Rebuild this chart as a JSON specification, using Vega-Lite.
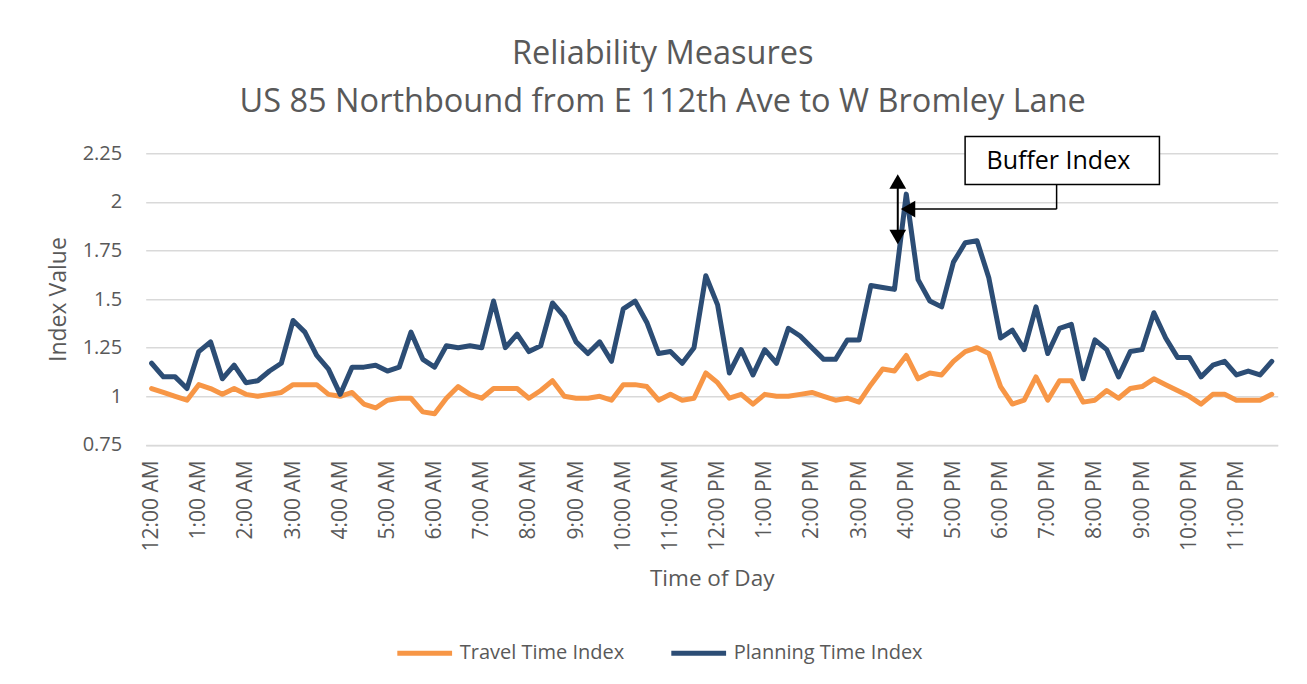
{
  "$schema": "https://vega.github.io/schema/vega-lite/v6.json",
  "width": 1132,
  "height": 291.6,
  "autosize": {"type": "none"},
  "padding": {"left": 145.7, "top": 153.3, "right": 29.3, "bottom": 239.1},
  "background": "white",
  "config": {"font": "Open Sans", "view": {"stroke": null}},
  "title": {
    "text": ["Reliability Measures", "US 85 Northbound from E 112th Ave to W Bromley Lane"],
    "fontSize": 32.5, "fontWeight": "normal", "color": "#595959", "lineHeight": 48, "offset": 17, "dx": -49
  },
  "data": {"values": [
    {"slot":0,"time":"12:00 AM","Travel Time Index":1.04,"Planning Time Index":1.17},
    {"slot":1,"time":"12:15 AM","Travel Time Index":1.02,"Planning Time Index":1.10},
    {"slot":2,"time":"12:30 AM","Travel Time Index":1.00,"Planning Time Index":1.10},
    {"slot":3,"time":"12:45 AM","Travel Time Index":0.98,"Planning Time Index":1.04},
    {"slot":4,"time":"1:00 AM","Travel Time Index":1.06,"Planning Time Index":1.23},
    {"slot":5,"time":"1:15 AM","Travel Time Index":1.04,"Planning Time Index":1.28},
    {"slot":6,"time":"1:30 AM","Travel Time Index":1.01,"Planning Time Index":1.09},
    {"slot":7,"time":"1:45 AM","Travel Time Index":1.04,"Planning Time Index":1.16},
    {"slot":8,"time":"2:00 AM","Travel Time Index":1.01,"Planning Time Index":1.07},
    {"slot":9,"time":"2:15 AM","Travel Time Index":1.00,"Planning Time Index":1.08},
    {"slot":10,"time":"2:30 AM","Travel Time Index":1.01,"Planning Time Index":1.13},
    {"slot":11,"time":"2:45 AM","Travel Time Index":1.02,"Planning Time Index":1.17},
    {"slot":12,"time":"3:00 AM","Travel Time Index":1.06,"Planning Time Index":1.39},
    {"slot":13,"time":"3:15 AM","Travel Time Index":1.06,"Planning Time Index":1.33},
    {"slot":14,"time":"3:30 AM","Travel Time Index":1.06,"Planning Time Index":1.21},
    {"slot":15,"time":"3:45 AM","Travel Time Index":1.01,"Planning Time Index":1.14},
    {"slot":16,"time":"4:00 AM","Travel Time Index":1.00,"Planning Time Index":1.01},
    {"slot":17,"time":"4:15 AM","Travel Time Index":1.02,"Planning Time Index":1.15},
    {"slot":18,"time":"4:30 AM","Travel Time Index":0.96,"Planning Time Index":1.15},
    {"slot":19,"time":"4:45 AM","Travel Time Index":0.94,"Planning Time Index":1.16},
    {"slot":20,"time":"5:00 AM","Travel Time Index":0.98,"Planning Time Index":1.13},
    {"slot":21,"time":"5:15 AM","Travel Time Index":0.99,"Planning Time Index":1.15},
    {"slot":22,"time":"5:30 AM","Travel Time Index":0.99,"Planning Time Index":1.33},
    {"slot":23,"time":"5:45 AM","Travel Time Index":0.92,"Planning Time Index":1.19},
    {"slot":24,"time":"6:00 AM","Travel Time Index":0.91,"Planning Time Index":1.15},
    {"slot":25,"time":"6:15 AM","Travel Time Index":0.99,"Planning Time Index":1.26},
    {"slot":26,"time":"6:30 AM","Travel Time Index":1.05,"Planning Time Index":1.25},
    {"slot":27,"time":"6:45 AM","Travel Time Index":1.01,"Planning Time Index":1.26},
    {"slot":28,"time":"7:00 AM","Travel Time Index":0.99,"Planning Time Index":1.25},
    {"slot":29,"time":"7:15 AM","Travel Time Index":1.04,"Planning Time Index":1.49},
    {"slot":30,"time":"7:30 AM","Travel Time Index":1.04,"Planning Time Index":1.25},
    {"slot":31,"time":"7:45 AM","Travel Time Index":1.04,"Planning Time Index":1.32},
    {"slot":32,"time":"8:00 AM","Travel Time Index":0.99,"Planning Time Index":1.23},
    {"slot":33,"time":"8:15 AM","Travel Time Index":1.03,"Planning Time Index":1.26},
    {"slot":34,"time":"8:30 AM","Travel Time Index":1.08,"Planning Time Index":1.48},
    {"slot":35,"time":"8:45 AM","Travel Time Index":1.00,"Planning Time Index":1.41},
    {"slot":36,"time":"9:00 AM","Travel Time Index":0.99,"Planning Time Index":1.28},
    {"slot":37,"time":"9:15 AM","Travel Time Index":0.99,"Planning Time Index":1.22},
    {"slot":38,"time":"9:30 AM","Travel Time Index":1.00,"Planning Time Index":1.28},
    {"slot":39,"time":"9:45 AM","Travel Time Index":0.98,"Planning Time Index":1.18},
    {"slot":40,"time":"10:00 AM","Travel Time Index":1.06,"Planning Time Index":1.45},
    {"slot":41,"time":"10:15 AM","Travel Time Index":1.06,"Planning Time Index":1.49},
    {"slot":42,"time":"10:30 AM","Travel Time Index":1.05,"Planning Time Index":1.38},
    {"slot":43,"time":"10:45 AM","Travel Time Index":0.98,"Planning Time Index":1.22},
    {"slot":44,"time":"11:00 AM","Travel Time Index":1.01,"Planning Time Index":1.23},
    {"slot":45,"time":"11:15 AM","Travel Time Index":0.98,"Planning Time Index":1.17},
    {"slot":46,"time":"11:30 AM","Travel Time Index":0.99,"Planning Time Index":1.25},
    {"slot":47,"time":"11:45 AM","Travel Time Index":1.12,"Planning Time Index":1.62},
    {"slot":48,"time":"12:00 PM","Travel Time Index":1.07,"Planning Time Index":1.47},
    {"slot":49,"time":"12:15 PM","Travel Time Index":0.99,"Planning Time Index":1.12},
    {"slot":50,"time":"12:30 PM","Travel Time Index":1.01,"Planning Time Index":1.24},
    {"slot":51,"time":"12:45 PM","Travel Time Index":0.96,"Planning Time Index":1.11},
    {"slot":52,"time":"1:00 PM","Travel Time Index":1.01,"Planning Time Index":1.24},
    {"slot":53,"time":"1:15 PM","Travel Time Index":1.00,"Planning Time Index":1.17},
    {"slot":54,"time":"1:30 PM","Travel Time Index":1.00,"Planning Time Index":1.35},
    {"slot":55,"time":"1:45 PM","Travel Time Index":1.01,"Planning Time Index":1.31},
    {"slot":56,"time":"2:00 PM","Travel Time Index":1.02,"Planning Time Index":1.25},
    {"slot":57,"time":"2:15 PM","Travel Time Index":1.00,"Planning Time Index":1.19},
    {"slot":58,"time":"2:30 PM","Travel Time Index":0.98,"Planning Time Index":1.19},
    {"slot":59,"time":"2:45 PM","Travel Time Index":0.99,"Planning Time Index":1.29},
    {"slot":60,"time":"3:00 PM","Travel Time Index":0.97,"Planning Time Index":1.29},
    {"slot":61,"time":"3:15 PM","Travel Time Index":1.06,"Planning Time Index":1.57},
    {"slot":62,"time":"3:30 PM","Travel Time Index":1.14,"Planning Time Index":1.56},
    {"slot":63,"time":"3:45 PM","Travel Time Index":1.13,"Planning Time Index":1.55},
    {"slot":64,"time":"4:00 PM","Travel Time Index":1.21,"Planning Time Index":2.04},
    {"slot":65,"time":"4:15 PM","Travel Time Index":1.09,"Planning Time Index":1.60},
    {"slot":66,"time":"4:30 PM","Travel Time Index":1.12,"Planning Time Index":1.49},
    {"slot":67,"time":"4:45 PM","Travel Time Index":1.11,"Planning Time Index":1.46},
    {"slot":68,"time":"5:00 PM","Travel Time Index":1.18,"Planning Time Index":1.69},
    {"slot":69,"time":"5:15 PM","Travel Time Index":1.23,"Planning Time Index":1.79},
    {"slot":70,"time":"5:30 PM","Travel Time Index":1.25,"Planning Time Index":1.80},
    {"slot":71,"time":"5:45 PM","Travel Time Index":1.22,"Planning Time Index":1.61},
    {"slot":72,"time":"6:00 PM","Travel Time Index":1.05,"Planning Time Index":1.30},
    {"slot":73,"time":"6:15 PM","Travel Time Index":0.96,"Planning Time Index":1.34},
    {"slot":74,"time":"6:30 PM","Travel Time Index":0.98,"Planning Time Index":1.24},
    {"slot":75,"time":"6:45 PM","Travel Time Index":1.10,"Planning Time Index":1.46},
    {"slot":76,"time":"7:00 PM","Travel Time Index":0.98,"Planning Time Index":1.22},
    {"slot":77,"time":"7:15 PM","Travel Time Index":1.08,"Planning Time Index":1.35},
    {"slot":78,"time":"7:30 PM","Travel Time Index":1.08,"Planning Time Index":1.37},
    {"slot":79,"time":"7:45 PM","Travel Time Index":0.97,"Planning Time Index":1.09},
    {"slot":80,"time":"8:00 PM","Travel Time Index":0.98,"Planning Time Index":1.29},
    {"slot":81,"time":"8:15 PM","Travel Time Index":1.03,"Planning Time Index":1.24},
    {"slot":82,"time":"8:30 PM","Travel Time Index":0.99,"Planning Time Index":1.10},
    {"slot":83,"time":"8:45 PM","Travel Time Index":1.04,"Planning Time Index":1.23},
    {"slot":84,"time":"9:00 PM","Travel Time Index":1.05,"Planning Time Index":1.24},
    {"slot":85,"time":"9:15 PM","Travel Time Index":1.09,"Planning Time Index":1.43},
    {"slot":86,"time":"9:30 PM","Travel Time Index":1.06,"Planning Time Index":1.30},
    {"slot":87,"time":"9:45 PM","Travel Time Index":1.03,"Planning Time Index":1.20},
    {"slot":88,"time":"10:00 PM","Travel Time Index":1.00,"Planning Time Index":1.20},
    {"slot":89,"time":"10:15 PM","Travel Time Index":0.96,"Planning Time Index":1.10},
    {"slot":90,"time":"10:30 PM","Travel Time Index":1.01,"Planning Time Index":1.16},
    {"slot":91,"time":"10:45 PM","Travel Time Index":1.01,"Planning Time Index":1.18},
    {"slot":92,"time":"11:00 PM","Travel Time Index":0.98,"Planning Time Index":1.11},
    {"slot":93,"time":"11:15 PM","Travel Time Index":0.98,"Planning Time Index":1.13},
    {"slot":94,"time":"11:30 PM","Travel Time Index":0.98,"Planning Time Index":1.11},
    {"slot":95,"time":"11:45 PM","Travel Time Index":1.01,"Planning Time Index":1.18}
  ]},
  "layer": [
    {
      "transform": [{"fold": ["Travel Time Index", "Planning Time Index"], "as": ["series", "value"]}],
      "mark": {"type": "line", "strokeWidth": 5, "strokeJoin": "round", "strokeCap": "round"},
      "encoding": {
        "x": {
          "field": "slot", "type": "quantitative",
          "scale": {"domain": [-0.5, 95.5], "nice": false, "zero": false},
          "axis": {
            "values": [0,4,8,12,16,20,24,28,32,36,40,44,48,52,56,60,64,68,72,76,80,84,88,92],
            "labelExpr": "(floor(datum.value/4) % 12 == 0 ? 12 : floor(datum.value/4) % 12) + ':00 ' + (datum.value < 48 ? 'AM' : 'PM')",
            "labelAngle": -90, "labelFontSize": 21, "labelColor": "#595959",
            "labelPadding": 15, "labelFlush": false, "labelOverlap": false,
            "ticks": false, "grid": false,
            "domain": true, "domainColor": "#d9d9d9", "domainWidth": 1.5,
            "title": "Time of Day", "titleFontSize": 22.5, "titleFontWeight": "normal",
            "titleColor": "#595959", "titlePadding": 16
          }
        },
        "y": {
          "field": "value", "type": "quantitative",
          "scale": {"domain": [0.75, 2.25], "nice": false, "zero": false},
          "axis": {
            "values": [0.75, 1, 1.25, 1.5, 1.75, 2, 2.25],
            "format": ".2~f",
            "labelFontSize": 20, "labelColor": "#595959", "labelPadding": 24,
            "ticks": false, "domain": false,
            "grid": true, "gridColor": "#d9d9d9", "gridWidth": 1.5,
            "title": "Index Value", "titleFontSize": 23, "titleFontWeight": "normal",
            "titleColor": "#595959", "titlePadding": 12
          }
        },
        "color": {
          "field": "series", "type": "nominal",
          "scale": {"domain": ["Travel Time Index", "Planning Time Index"], "range": ["#F79646", "#2C4D75"]},
          "legend": {
            "title": null, "orient": "none", "direction": "horizontal",
            "legendX": 249, "legendY": 470,
            "symbolType": "stroke", "symbolStrokeWidth": 5, "symbolSize": 3000,
            "labelFontSize": 20, "labelColor": "#595959", "labelOffset": 5, "labelLimit": 400,
            "columnPadding": 36
          }
        }
      }
    },
    {
      "data": {"values": [{}]},
      "mark": {"type": "rect", "fill": "white", "stroke": "black", "strokeWidth": 1.5},
      "encoding": {
        "x": {"datum": 68.99}, "x2": {"datum": 85.47},
        "y": {"datum": 2.336}, "y2": {"datum": 2.089}
      }
    },
    {
      "data": {"values": [{}]},
      "mark": {"type": "text", "text": "Buffer Index", "fontSize": 25, "color": "black", "align": "center", "baseline": "middle"},
      "encoding": {"x": {"datum": 76.9}, "y": {"datum": 2.21}}
    },
    {
      "data": {"values": [{}]},
      "mark": {"type": "rule", "color": "black", "strokeWidth": 1.5},
      "encoding": {"x": {"datum": 76.75}, "y": {"datum": 2.089}, "y2": {"datum": 1.963}}
    },
    {
      "data": {"values": [{}]},
      "mark": {"type": "rule", "color": "black", "strokeWidth": 1.5},
      "encoding": {"x": {"datum": 64.5}, "x2": {"datum": 76.75}, "y": {"datum": 1.963}}
    },
    {
      "data": {"values": [{}]},
      "mark": {"type": "point", "shape": "triangle-left", "filled": true, "color": "black", "size": 280, "opacity": 1},
      "encoding": {"x": {"datum": 64.15}, "y": {"datum": 1.963}}
    },
    {
      "data": {"values": [{}]},
      "mark": {"type": "rule", "color": "black", "strokeWidth": 2},
      "encoding": {"x": {"datum": 63.28}, "y": {"datum": 2.10}, "y2": {"datum": 1.825}}
    },
    {
      "data": {"values": [{}]},
      "mark": {"type": "point", "shape": "triangle-up", "filled": true, "color": "black", "size": 280, "opacity": 1},
      "encoding": {"x": {"datum": 63.28}, "y": {"datum": 2.105}}
    },
    {
      "data": {"values": [{}]},
      "mark": {"type": "point", "shape": "triangle-down", "filled": true, "color": "black", "size": 280, "opacity": 1},
      "encoding": {"x": {"datum": 63.28}, "y": {"datum": 1.82}}
    }
  ]
}
